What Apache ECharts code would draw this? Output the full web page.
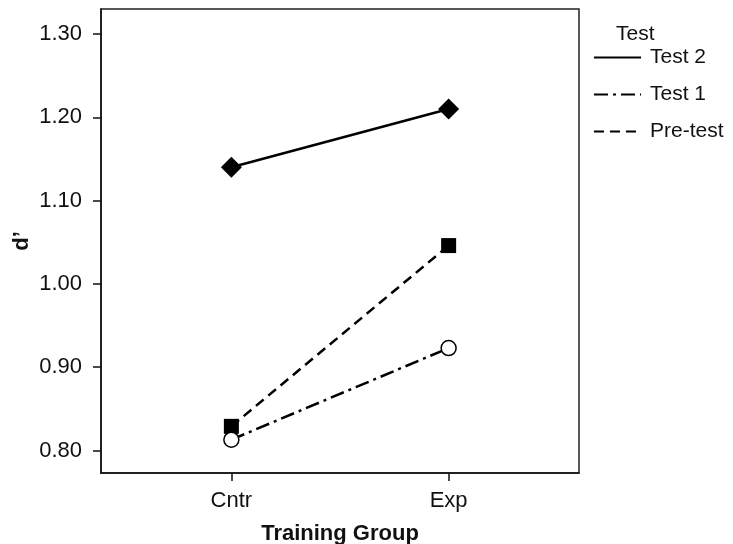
<!DOCTYPE html>
<html>
<head>
<meta charset="utf-8">
<script src="https://cdn.jsdelivr.net/npm/echarts@6/dist/echarts.min.js"></script>
<style>
html,body{margin:0;padding:0;background:#fff;}
#main{width:733px;height:544px;}
</style>
</head>
<body>
<div id="main"></div>
<script>
var categories = ['Cntr', 'Exp'];
var yTicks = [0.80, 0.90, 1.00, 1.10, 1.20, 1.30];
var test2 = [1.14, 1.21];
var test1 = [0.813, 0.923];
var pretest = [0.829, 1.046];

function pts(arr) { return arr.map(function (v, i) { return [i, v]; }); }

var font = 'Liberation Sans, Arial, sans-serif';
var chart = echarts.init(document.getElementById('main'), null, {renderer: 'canvas'});
chart.setOption({
  animation: false,
  backgroundColor: '#fff',
  grid: {left: 101, right: 154, top: 9, bottom: 71, show: true, borderColor: '#222', borderWidth: 1.5,
    containLabel: false, outerBoundsMode: 'none'},
  title: {text: 'Test', left: 611, top: 19, textStyle: {fontFamily: font, fontSize: 21, fontWeight: 'normal', color: '#111'}},
  legend: {
    orient: 'vertical', left: 593, top: 47, padding: 0, itemWidth: 47, itemHeight: 20, itemGap: 16,
    itemStyle: {opacity: 0},
    textStyle: {fontFamily: font, fontSize: 21, color: '#111', padding: [0, 0, 0, 4]},
    data: ['Test 2', 'Test 1', 'Pre-test']
  },
  xAxis: {
    type: 'value', min: -0.6, max: 1.6,
    name: 'Training Group', nameLocation: 'middle', nameGap: 50,
    nameTextStyle: {fontFamily: font, fontSize: 22, fontWeight: 'bold', color: '#111'},
    axisLine: {show: true, onZero: false, lineStyle: {color: '#111', width: 1.5}},
    axisTick: {show: true, length: 8, customValues: [0, 1], lineStyle: {color: '#111', width: 1.5}},
    axisLabel: {customValues: [0, 1], margin: 17, fontFamily: font, fontSize: 22, color: '#111',
      formatter: function (v) { return categories[Math.round(v)]; }},
    splitLine: {show: false}
  },
  yAxis: {
    type: 'value', min: 0.773, max: 1.33,
    name: 'd\u2019', nameLocation: 'middle', nameGap: 68, nameRotate: 90, nameMoveOverlap: false,
    nameTextStyle: {fontFamily: font, fontSize: 22, fontWeight: 'bold', color: '#111'},
    axisLine: {show: true, onZero: false, lineStyle: {color: '#111', width: 1.5}},
    axisTick: {show: true, length: 8, customValues: yTicks, lineStyle: {color: '#111', width: 1.5}},
    axisLabel: {customValues: yTicks, margin: 19, fontFamily: font, fontSize: 22, color: '#111',
      formatter: function (v) { return v.toFixed(2); }},
    splitLine: {show: false}
  },
  series: [
    {name: 'Test 2', type: 'line', data: pts(test2), symbol: 'diamond', symbolSize: 21,
      lineStyle: {color: '#000', width: 2.5, type: 'solid'},
      itemStyle: {color: '#000'}, z: 2},
    {name: 'Test 1', type: 'line', data: pts(test1), symbol: 'circle', symbolSize: 15,
      lineStyle: {color: '#000', width: 2.5, type: [14, 5, 3, 5]},
      itemStyle: {color: '#fff', borderColor: '#000', borderWidth: 1.5}, z: 4},
    {name: 'Pre-test', type: 'line', data: pts(pretest), symbol: 'rect', symbolSize: 15,
      lineStyle: {color: '#000', width: 2.5, type: [10, 6]},
      itemStyle: {color: '#000'}, z: 3}
  ]
});
</script>
</body>
</html>
